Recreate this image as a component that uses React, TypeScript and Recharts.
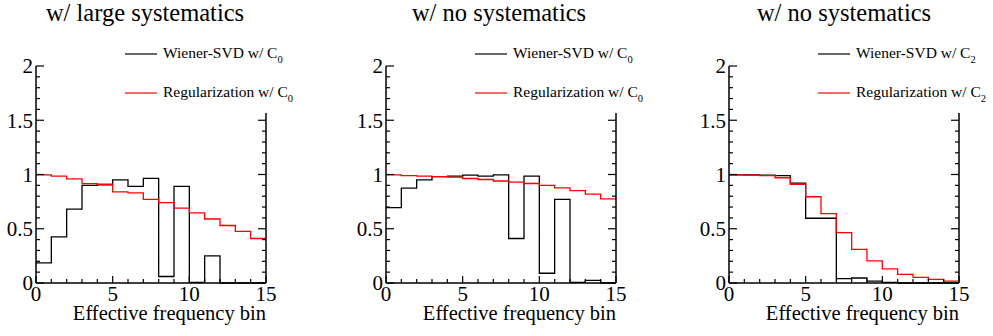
import { Legend, Line, LineChart, XAxis, YAxis } from "recharts";

// bin edges of the effective frequency histogram
const binEdges = [0, 1, 2, 3, 4, 5, 6, 7, 8, 9, 10, 11, 12, 13, 14, 15];
const xTicks = binEdges;
const yTicks = Array.from({ length: 21 }, (_, i) => i / 10);

// w/ large systematics, C0
const largeWiener = [0.185, 0.425, 0.68, 0.9, 0.905, 0.95, 0.89, 0.965, 0.06, 0.89, 0.005, 0.25, 0, 0, 0];
const largeReg = [0.997, 0.985, 0.96, 0.915, 0.91, 0.84, 0.83, 0.77, 0.74, 0.69, 0.646, 0.59, 0.53, 0.475, 0.41];

// w/ no systematics, C0
const noSystWiener = [0.695, 0.875, 0.95, 0.98, 0.985, 0.995, 0.985, 0.997, 0.41, 0.985, 0.09, 0.77, 0.006, 0.025, 0];
const noSystReg = [0.997, 0.99, 0.985, 0.98, 0.975, 0.963, 0.954, 0.94, 0.93, 0.917, 0.9, 0.877, 0.852, 0.82, 0.775];

// w/ no systematics, C2
const c2Wiener = [0.997, 0.997, 0.994, 0.99, 0.92, 0.597, 0.597, 0.04, 0.046, 0.018, 0.006, 0, 0, 0, 0];
const c2Reg = [0.997, 0.994, 0.99, 0.97, 0.91, 0.795, 0.64, 0.465, 0.31, 0.203, 0.13, 0.08, 0.052, 0.034, 0.018];

const titles = ["w/ large systematics", "w/ no systematics", "w/ no systematics"];
const subscripts = ["0", "0", "2"];

const FONT = "'Liberation Serif', 'DejaVu Serif', 'Times New Roman', Times, serif";
const CHART_W = 330;
const CHART_H = 336;

const panels = [
  { title: titles[0], sub: subscripts[0], left: 0, titleX: 145, wiener: largeWiener, reg: largeReg },
  { title: titles[1], sub: subscripts[1], left: 350, titleX: 499, wiener: noSystWiener, reg: noSystReg },
  { title: titles[2], sub: subscripts[2], left: 693, titleX: 844, wiener: c2Wiener, reg: c2Reg },
];

function buildSteps(wiener: number[], reg: number[]) {
  // histogram drawn as stepAfter, last edge repeats the last bin
  return binEdges.map((x, i) => {
    const k = Math.min(i, wiener.length - 1);
    return { x, wiener: wiener[k], reg: reg[k] };
  });
}

const isMajorY = (v: number) => Math.abs(v * 2 - Math.round(v * 2)) < 1e-6;

function BottomTick({ x, y, payload }: any) {
  const v = payload.value;
  const major = v % 5 === 0;
  return (
    <g>
      <line x1={x} x2={x} y1={y} y2={y - (major ? 7 : 4)} stroke="#000" strokeWidth={1.2} />
      {major && (
        <text x={x} y={y + 18} textAnchor="middle" fontSize={21} style={{ fontFamily: FONT }} fill="#000">
          {v}
        </text>
      )}
    </g>
  );
}

function TopTick({ x, y, payload }: any) {
  const major = payload.value % 5 === 0;
  return <line x1={x} x2={x} y1={y} y2={y + (major ? 7 : 4)} stroke="#000" strokeWidth={1.2} />;
}

function LeftTick({ x, y, payload }: any) {
  const v = payload.value;
  const major = isMajorY(v);
  return (
    <g>
      <line x1={x} x2={x + (major ? 8 : 4)} y1={y} y2={y} stroke="#000" strokeWidth={1.2} />
      {major && (
        <text x={x - 3} y={y} dy="0.35em" textAnchor="end" fontSize={21} style={{ fontFamily: FONT }} fill="#000">
          {String(Math.round(v * 10) / 10)}
        </text>
      )}
    </g>
  );
}

function RightTick({ x, y, payload }: any) {
  const major = isMajorY(payload.value);
  return <line x1={x} x2={x - (major ? 8 : 4)} y1={y} y2={y} stroke="#000" strokeWidth={1.2} />;
}

function LegendBox({ sub }: { sub: string }) {
  return (
    <svg width={213} height={83} style={{ display: "block", fontFamily: FONT }}>
      <rect width={213} height={83} fill="#fff" />
      <line x1={8} x2={40} y1={24} y2={24} stroke="#000" strokeWidth={1.2} />
      <text x={46} y={28} fontSize={15.5} fill="#000">
        Wiener-SVD w/ C<tspan dy={5} fontSize={10.5}>{sub}</tspan>
      </text>
      <line x1={8} x2={40} y1={63} y2={63} stroke="#ff0000" strokeWidth={1.2} />
      <text x={46} y={67} fontSize={15.5} fill="#000">
        Regularization w/ C<tspan dy={5} fontSize={10.5}>{sub}</tspan>
      </text>
    </svg>
  );
}

function Panel({ wiener, reg, sub }: { wiener: number[]; reg: number[]; sub: string }) {
  const data = buildSteps(wiener, reg);
  return (
    <LineChart
      width={CHART_W}
      height={CHART_H}
      data={data}
      margin={{ top: 66, right: 34, bottom: 0, left: 0 }}
      style={{ fontFamily: FONT }}
    >
      <XAxis
        xAxisId="b"
        dataKey="x"
        type="number"
        domain={[0, 15]}
        ticks={xTicks}
        interval={0}
        height={53}
        tickSize={0}
        tickMargin={0}
        tick={<BottomTick />}
        axisLine={{ stroke: "#000", strokeWidth: 1.5 }}
        label={{
          content: ({ viewBox }: any) => (
            <text
              x={viewBox.x + viewBox.width}
              y={viewBox.y + viewBox.height - 16}
              textAnchor="end"
              fontSize={20.5}
              style={{ fontFamily: FONT }}
              fill="#000"
            >
              Effective frequency bin
            </text>
          ),
        }}
      />
      <XAxis
        xAxisId="t"
        orientation="top"
        dataKey="x"
        type="number"
        domain={[0, 15]}
        ticks={xTicks}
        interval={0}
        height={0}
        tickSize={0}
        tickMargin={0}
        tick={<TopTick />}
        axisLine={{ stroke: "#000", strokeWidth: 1.5 }}
      />
      <YAxis
        yAxisId="l"
        type="number"
        domain={[0, 2]}
        ticks={yTicks}
        interval={0}
        width={36}
        tickSize={0}
        tickMargin={0}
        tick={<LeftTick />}
        axisLine={{ stroke: "#000", strokeWidth: 1.5 }}
      />
      <YAxis
        yAxisId="r"
        orientation="right"
        type="number"
        domain={[0, 2]}
        ticks={yTicks}
        interval={0}
        width={30}
        tickSize={0}
        tickMargin={0}
        tick={<RightTick />}
        axisLine={{ stroke: "#000", strokeWidth: 1.5 }}
      />
      <Line
        xAxisId="b"
        yAxisId="l"
        type="stepAfter"
        dataKey="wiener"
        stroke="#000"
        strokeWidth={1.3}
        dot={false}
        isAnimationActive={false}
      />
      {/* same domains: red series tied to the mirrored axes so they get ticks */}
      <Line
        xAxisId="t"
        yAxisId="r"
        type="stepAfter"
        dataKey="reg"
        stroke="#ff0000"
        strokeWidth={1.3}
        dot={false}
        isAnimationActive={false}
      />
      <Legend
        layout="horizontal"
        verticalAlign="middle"
        align="center"
        wrapperStyle={{ left: 117, top: 30, width: 213, height: 83, margin: 0 }}
        content={() => <LegendBox sub={sub} />}
      />
    </LineChart>
  );
}

export default function App() {
  return (
    <div
      style={{
        position: "absolute",
        left: 0,
        top: 0,
        width: 993,
        height: 336,
        overflow: "hidden",
        background: "#fff",
        fontFamily: FONT,
      }}
    >
      {panels.map((p, i) => (
        <div key={i} style={{ position: "absolute", left: p.left, top: 0 }}>
          <Panel wiener={p.wiener} reg={p.reg} sub={p.sub} />
        </div>
      ))}
      {panels.map((p, i) => (
        <div
          key={`t${i}`}
          style={{
            position: "absolute",
            left: p.titleX - 150,
            top: -2,
            width: 300,
            textAlign: "center",
            fontSize: 24.5,
            lineHeight: "30px",
            color: "#000",
          }}
        >
          {p.title}
        </div>
      ))}
    </div>
  );
}
